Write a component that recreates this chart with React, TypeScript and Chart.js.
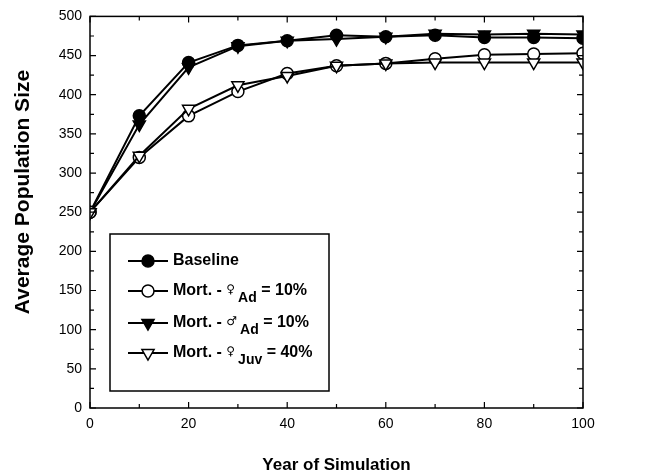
import React, { useEffect, useRef } from "react";
import { Chart, registerables } from "chart.js";

Chart.register(...registerables);

// Simulation years and average population size for each scenario
const years = [0, 10, 20, 30, 40, 50, 60, 70, 80, 90, 100];
const baseline = [250, 373, 441, 463, 469, 476, 474, 476, 473, 473, 472];
const mortFemaleAdult = [250, 320, 373, 404, 427, 437, 440, 446, 451, 452, 453];
const mortMaleAdult = [250, 362, 435, 462, 469, 471, 474, 478, 477, 478, 477];
const mortFemaleJuv = [250, 322, 382, 412, 424, 437, 440, 441, 441, 441, 441];

const yTicks = [0, 50, 100, 150, 200, 250, 300, 350, 400, 450, 500];
const xTicks = [0, 20, 40, 60, 80, 100];

const xTitle = "Year of Simulation";
const yTitle = "Average Population Size";

type LegendItem = {
  lead: string;
  symbol?: string;
  sub?: string;
  tail?: string;
  marker: "circleFilled" | "circleOpen" | "triFilled" | "triOpen";
};

const legendItems: LegendItem[] = [
  { lead: "Baseline", marker: "circleFilled" },
  { lead: "Mort. - ", symbol: "♀", sub: "Ad", tail: " = 10%", marker: "circleOpen" },
  { lead: "Mort. - ", symbol: "♂", sub: "Ad", tail: " = 10%", marker: "triFilled" },
  { lead: "Mort. - ", symbol: "♀", sub: "Juv", tail: " = 40%", marker: "triOpen" },
];

const FONT = "Arial, 'Liberation Sans', Helvetica, sans-serif";

function drawMarker(ctx: CanvasRenderingContext2D, kind: LegendItem["marker"], x: number, y: number) {
  ctx.save();
  ctx.lineWidth = 1.5;
  ctx.strokeStyle = "#000";
  ctx.beginPath();
  if (kind.startsWith("circle")) {
    ctx.arc(x, y, 6, 0, Math.PI * 2);
  } else {
    const r = 7;
    ctx.moveTo(x, y + r);
    ctx.lineTo(x - r * Math.sin(Math.PI / 3), y - r * 0.5);
    ctx.lineTo(x + r * Math.sin(Math.PI / 3), y - r * 0.5);
    ctx.closePath();
  }
  ctx.fillStyle = kind.endsWith("Filled") ? "#000" : "#fff";
  ctx.fill();
  ctx.stroke();
  ctx.restore();
}

const framePlugin = {
  id: "frameAndDecor",
  afterDraw(chart: any) {
    const ctx: CanvasRenderingContext2D = chart.ctx;
    const { left, right, top, bottom } = chart.chartArea;
    const xs = chart.scales.x;
    const ys = chart.scales.y;
    ctx.save();
    ctx.strokeStyle = "#000";
    ctx.lineWidth = 1.5;
    ctx.strokeRect(left, top, right - left, bottom - top);

    // inward tick marks, major and minor
    ctx.lineWidth = 1.2;
    ctx.beginPath();
    for (let v = 0; v <= 500; v += 25) {
      const py = ys.getPixelForValue(v);
      const len = v % 50 === 0 ? 6 : 4;
      ctx.moveTo(left, py);
      ctx.lineTo(left + len, py);
      ctx.moveTo(right, py);
      ctx.lineTo(right - len, py);
    }
    for (let v = 0; v <= 100; v += 10) {
      const px = xs.getPixelForValue(v);
      const len = v % 20 === 0 ? 6 : 4;
      ctx.moveTo(px, bottom);
      ctx.lineTo(px, bottom - len);
      ctx.moveTo(px, top);
      ctx.lineTo(px, top + len);
    }
    ctx.stroke();

    // axis titles
    ctx.fillStyle = "#000";
    ctx.textAlign = "center";
    ctx.textBaseline = "middle";
    ctx.font = `bold 17px ${FONT}`;
    ctx.fillText(xTitle, (left + right) / 2, 465);
    ctx.save();
    ctx.font = `bold 21px ${FONT}`;
    ctx.translate(23, 192);
    ctx.rotate(-Math.PI / 2);
    ctx.fillText(yTitle, 0, 0);
    ctx.restore();

    // legend box
    const bx = 110, by = 234, bw = 219, bh = 157;
    ctx.fillStyle = "#fff";
    ctx.fillRect(bx, by, bw, bh);
    ctx.lineWidth = 1.5;
    ctx.strokeRect(bx, by, bw, bh);
    const rows = [261, 291, 323, 353];
    legendItems.forEach((it, i) => {
      const y = rows[i];
      ctx.lineWidth = 2;
      ctx.strokeStyle = "#000";
      ctx.beginPath();
      ctx.moveTo(128, y);
      ctx.lineTo(168, y);
      ctx.stroke();
      drawMarker(ctx, it.marker, 148, y);
      ctx.fillStyle = "#000";
      ctx.textAlign = "left";
      ctx.textBaseline = "middle";
      let x = 173;
      ctx.font = `bold 16px ${FONT}`;
      ctx.fillText(it.lead, x, y);
      x += ctx.measureText(it.lead).width;
      if (it.symbol) {
        ctx.font = `12px 'DejaVu Sans', sans-serif`;
        ctx.fillText(it.symbol, x, y - 1);
        x += ctx.measureText(it.symbol).width + 3;
      }
      if (it.sub) {
        ctx.font = `bold 14px ${FONT}`;
        ctx.fillText(it.sub, x, y + 7);
        x += ctx.measureText(it.sub).width;
      }
      if (it.tail) {
        ctx.font = `bold 16px ${FONT}`;
        ctx.fillText(it.tail, x, y);
      }
    });
    ctx.restore();
  },
};

function makeDataset(label: string, values: number[], marker: LegendItem["marker"]) {
  const tri = marker.startsWith("tri");
  return {
    label,
    data: years.map((x, i) => ({ x, y: values[i] })),
    borderColor: "#000",
    borderWidth: 2,
    backgroundColor: marker.endsWith("Filled") ? "#000" : "#fff",
    pointBackgroundColor: marker.endsWith("Filled") ? "#000" : "#fff",
    pointBorderColor: "#000",
    pointBorderWidth: 1.5,
    pointStyle: tri ? "triangle" : "circle",
    pointRotation: tri ? 180 : 0,
    pointRadius: tri ? 7 : 6,
    tension: 0,
    fill: false,
  };
}

export default function App() {
  const ref = useRef<HTMLCanvasElement | null>(null);

  useEffect(() => {
    document.body.style.margin = "0";
    if (!ref.current) return;
    const chart = new Chart(ref.current, {
      type: "line",
      data: {
        datasets: [
          makeDataset("Mort. - ♀ Juv = 40%", mortFemaleJuv, "triOpen"),
          makeDataset("Mort. - ♀ Ad = 10%", mortFemaleAdult, "circleOpen"),
          makeDataset("Mort. - ♂ Ad = 10%", mortMaleAdult, "triFilled"),
          makeDataset("Baseline", baseline, "circleFilled"),
        ] as any,
      },
      options: {
        responsive: false,
        animation: false,
        layout: { padding: { left: 0, top: 16, right: 81, bottom: 0 } },
        plugins: { legend: { display: false }, tooltip: { enabled: false } },
        scales: {
          x: {
            type: "linear",
            min: 0,
            max: 100,
            afterBuildTicks: (s: any) => {
              s.ticks = xTicks.map((v) => ({ value: v }));
            },
            afterFit: (s: any) => {
              s.height = 67;
            },
            grid: { display: false, drawTicks: false },
            border: { display: false },
            ticks: {
              color: "#000",
              font: { family: FONT, size: 14 },
              padding: 8,
              maxRotation: 0,
            },
          },
          y: {
            type: "linear",
            min: 0,
            max: 500,
            afterBuildTicks: (s: any) => {
              s.ticks = yTicks.map((v) => ({ value: v }));
            },
            afterFit: (s: any) => {
              s.width = 90;
            },
            grid: { display: false, drawTicks: false },
            border: { display: false },
            ticks: {
              color: "#000",
              font: { family: FONT, size: 14 },
              padding: 8,
            },
          },
        },
      },
      plugins: [framePlugin],
    });
    return () => chart.destroy();
  }, []);

  return (
    <div style={{ width: 664, height: 475, background: "#fff" }}>
      <canvas ref={ref} width={664} height={475} style={{ display: "block" }} />
    </div>
  );
}
